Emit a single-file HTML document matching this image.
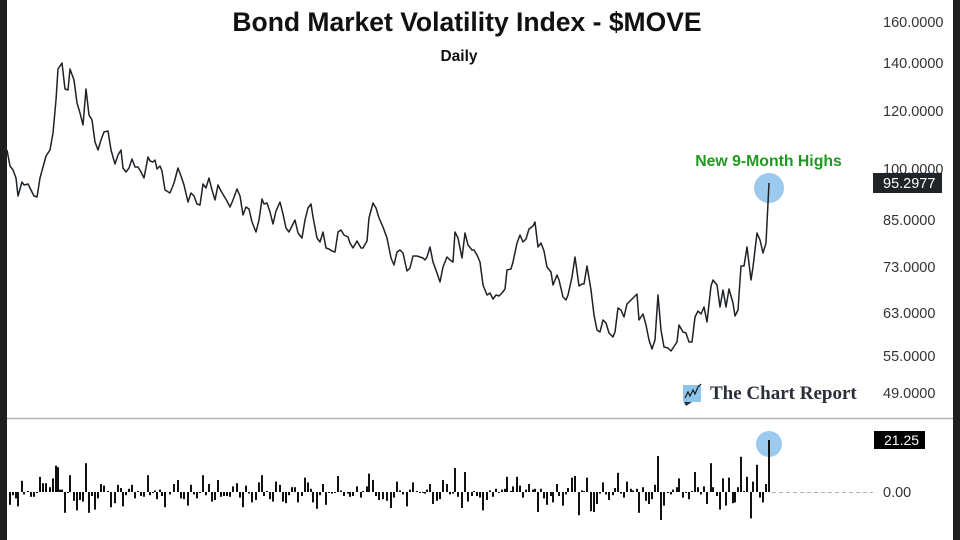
<!DOCTYPE html>
<html>
<head>
<meta charset="utf-8">
<style>
html,body{margin:0;padding:0;background:#fff;}
svg{display:block;}
</style>
</head>
<body>
<svg id="c" width="960" height="540" viewBox="0 0 960 540" xmlns="http://www.w3.org/2000/svg">
<rect x="0" y="0" width="960" height="540" fill="#ffffff"/>
<rect x="0" y="0" width="7" height="540" fill="#1f1f1f"/>
<rect x="953" y="0" width="7" height="540" fill="#1f1f1f"/>

<text x="467" y="31" text-anchor="middle" font-family="Liberation Sans, sans-serif" font-weight="700" font-size="26.5" fill="#111">Bond Market Volatility Index - $MOVE</text>
<text x="459" y="61" text-anchor="middle" font-family="Liberation Sans, sans-serif" font-weight="700" font-size="15.5" fill="#111">Daily</text>

<g font-family="Liberation Sans, sans-serif" font-size="14.5" fill="#333">
<text x="883" y="27">160.0000</text>
<text x="883" y="68">140.0000</text>
<text x="883" y="116">120.0000</text>
<text x="883" y="174">100.0000</text>
<text x="883" y="225">85.0000</text>
<text x="883" y="272">73.0000</text>
<text x="883" y="318">63.0000</text>
<text x="883" y="361">55.0000</text>
<text x="883" y="398">49.0000</text>
<text x="883" y="497">0.00</text>
</g>

<rect x="873" y="173" width="69" height="20" fill="#1f2428"/>
<text x="883" y="188" font-family="Liberation Sans, sans-serif" font-size="14.5" fill="#fff">95.2977</text>
<rect x="874" y="431" width="51" height="18" fill="#000"/>
<text x="884" y="445" font-family="Liberation Sans, sans-serif" font-size="14" fill="#fff">21.25</text>

<text x="768.5" y="166" text-anchor="middle" font-family="Liberation Sans, sans-serif" font-weight="700" font-size="15.8" fill="#1e9b1e">New 9-Month Highs</text>

<circle cx="769" cy="188" r="15" fill="#9ccaee"/>
<circle cx="769" cy="444" r="13" fill="#9ccaee"/>

<polyline id="pl" fill="none" stroke="#1e2226" stroke-width="1.5" stroke-linejoin="round" points="7,150 10,166 13,170 16,178 18,196 22,182 24,185 28,184 31,190 34,196 37,197 40,178 43,167 46,156 50,150 53,133 56,100 58,69 60,66 62,63 65,89 68,90 70,69 74,80 77,103 80,113 83,125 86,89 89,115 92,120 95,142 98,150 101,140 104,132 108,131 111,150 115,164 118,155 121,150 123,168 126,172 129,168 132,159 135,167 138,167 141,172 144,178 148,157 150,161 153,162 155,160 157,169 160,166 162,171 165,190 170,193 174,183 178,168 181,176 184,185 188,202 191,193 194,196 197,204 200,205 203,184 206,188 209,178 212,190 215,200 218,185 221,191 224,196 227,201 230,207 233,200 237,189 240,196 243,215 246,207 249,209 252,222 256,232 259,220 262,199 264,204 267,203 270,212 273,224 276,211 280,202 283,214 286,228 289,232 292,226 295,220 298,233 302,238 305,220 308,208 311,204 313,217 317,238 320,242 323,232 326,248 329,249 332,251 335,252 338,232 341,230 344,235 348,237 350,243 353,248 357,241 361,248 363,248 367,241 369,218 373,203 376,208 379,218 383,227 387,238 391,258 394,265 397,252 400,250 403,253 407,271 410,268 413,256 417,256 420,257 423,258 425,260 427,257 430,247 433,262 437,273 440,282 443,267 447,257 450,260 453,262 455,232 458,238 462,258 465,233 468,245 472,250 474,250 477,255 480,262 483,285 487,295 490,293 493,299 496,295 499,296 502,293 505,289 507,270 511,269 513,262 517,243 520,235 523,242 526,239 529,229 533,226 535,222 538,247 541,243 544,251 547,267 551,272 553,285 557,275 559,280 563,297 566,300 568,295 572,277 575,257 579,286 582,284 584,284 587,266 591,290 594,315 597,330 600,332 603,320 606,323 609,333 613,337 615,332 618,308 621,310 624,317 627,304 631,300 633,298 637,294 639,320 643,314 646,325 649,340 652,349 655,340 658,295 661,330 664,347 668,348 671,351 673,348 677,342 679,325 683,332 686,333 689,342 692,342 695,317 698,311 701,314 704,307 707,322 711,286 713,280 717,285 720,307 723,290 726,307 729,289 733,303 735,316 738,310 741,266 744,266 747,247 751,280 753,267 757,233 760,240 763,253 766,243 769,183"/>

<!-- logo -->
<rect x="683" y="385" width="18" height="17" fill="#8ec5ec"/>
<polygon points="684,402 692,402 686,406" fill="#2a2e39"/>
<polyline points="685,398 688,392 690,396 693,390 695,394 698,387 701,384" fill="none" stroke="#1a1a1a" stroke-width="1.2"/>
<text x="710" y="399" font-family="Liberation Serif, serif" font-weight="700" font-size="19" fill="#2a2e39">The Chart Report</text>

<line x1="7" y1="418.5" x2="953" y2="418.5" stroke="#b4b4b4" stroke-width="1.5"/>
<line x1="772" y1="492.5" x2="873" y2="492.5" stroke="#b0b0b0" stroke-width="1" stroke-dasharray="4 3"/>

<g id="bars" fill="#111"></g>
</svg>
<script>
(function(){
  var pts = document.getElementById('pl').getAttribute('points').trim().split(/\s+/).map(function(p){var a=p.split(',');return [parseFloat(a[0]),parseFloat(a[1])];});
  var g = document.getElementById('bars');
  var ns = 'http://www.w3.org/2000/svg';
  var base = 492;
  for (var i=1;i<pts.length;i++){
    var v = -(pts[i][1]-pts[i-1][1])*0.8;
    if (i===pts.length-1) v = 52;
    if (v>38 && i!==pts.length-1) v=38;
    if (v<-30) v=-30;
    var h = Math.abs(v); if (h<1) h=1;
    var r = document.createElementNS(ns,'rect');
    r.setAttribute('x', (pts[i][0]-1).toFixed(1));
    r.setAttribute('width', '2');
    if (v>=0){ r.setAttribute('y', (base-h).toFixed(1)); }
    else { r.setAttribute('y', base.toFixed(1)); }
    r.setAttribute('height', h.toFixed(1));
    g.appendChild(r);
  }
})();
</script>
</body>
</html>
